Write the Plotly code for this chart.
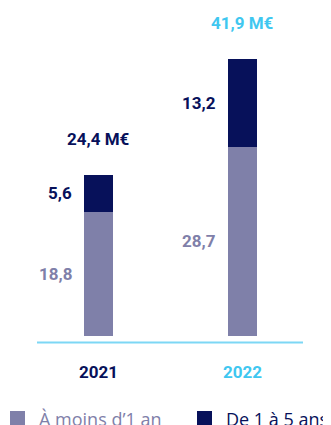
import plotly.graph_objects as go

years = ["2021", "2022"]
less_1y = [18.8, 28.7]
one_to_5y = [5.6, 13.2]
totals = [24.4, 41.9]
value_labels_less = ["18,8", "28,7"]
value_labels_more = ["5,6", "13,2"]
total_labels = ["24,4 M€", "41,9 M€"]
series_names = ["À moins d’1 an", "De 1 à 5 ans"]

LIGHT = "#7f80a9"
DARK = "#07115a"
CYAN = "#3fc7f0"
LINE = "#7dd7f5"
year_colors = [DARK, CYAN]
total_colors = [DARK, CYAN]
series_colors = [LIGHT, DARK]

NUMFONT = "Roboto, Liberation Sans, sans-serif"
W, H = 331, 425
OFF = 8  # page body margin
px_per_x = 144.0
x0_px = 98.5 - OFF
px_per_y = 6.6
base_px = 336 - OFF
bar_w = 29 / px_per_x

xs = list(range(len(years)))

fig = go.Figure()
fig.add_trace(go.Bar(x=xs, y=less_1y, name=series_names[0],
                     marker=dict(color=LIGHT, line=dict(width=0)), width=bar_w, hoverinfo="skip"))
fig.add_trace(go.Bar(x=xs, y=one_to_5y, name=series_names[1],
                     marker=dict(color=DARK, line=dict(width=0)), width=bar_w, hoverinfo="skip"))

ann = []
for i in xs:
    ann.append(dict(x=i - bar_w / 2, y=less_1y[i] / 2, text=f"<b>{value_labels_less[i]}</b>", xref="x", yref="y",
                    xanchor="right", yanchor="middle", xshift=-10, showarrow=False,
                    font=dict(family=NUMFONT, size=17, color=LIGHT)))
    ann.append(dict(x=i - bar_w / 2, y=less_1y[i] + one_to_5y[i] / 2, text=f"<b>{value_labels_more[i]}</b>",
                    xref="x", yref="y", xanchor="right", yanchor="middle", xshift=-10, showarrow=False,
                    font=dict(family=NUMFONT, size=17, color=DARK)))
    ann.append(dict(x=i, y=totals[i], text=f"<b>{total_labels[i]}</b>", xref="x", yref="y",
                    xanchor="center", yanchor="middle", yshift=36, showarrow=False,
                    font=dict(family=NUMFONT, size=17, color=total_colors[i])))
    ann.append(dict(x=i, y=-(372 - OFF - base_px) / px_per_y, text=f"<b>{years[i]}</b>", xref="x", yref="y",
                    xanchor="center", yanchor="middle", showarrow=False,
                    font=dict(family=NUMFONT, size=17, color=year_colors[i])))

line_y = -(342.5 - OFF - base_px) / px_per_y
shapes = [dict(type="line", xref="paper", yref="y", x0=(37 - OFF) / W, x1=(303 - OFF) / W,
               y0=line_y, y1=line_y, line=dict(color=LINE, width=2))]

# legend (manual, to match the reference placement)
leg_sq_left = [10 - OFF, 197 - OFF]
leg_sq_top = 411 - OFF
for k, name in enumerate(series_names):
    shapes.append(dict(type="rect", xref="paper", yref="paper",
                       x0=leg_sq_left[k] / W, x1=(leg_sq_left[k] + 15) / W,
                       y0=1 - (leg_sq_top + 15) / H, y1=1 - leg_sq_top / H,
                       fillcolor=series_colors[k], line=dict(width=0)))
    ann.append(dict(x=(leg_sq_left[k] + 27) / W, y=1 - (leg_sq_top + 8) / H, xref="paper", yref="paper",
                    text=name, xanchor="left", yanchor="middle", showarrow=False,
                    font=dict(family="Open Sans, sans-serif", size=18, color=series_colors[k])))

fig.update_layout(
    width=W, height=H, margin=dict(l=0, r=0, t=0, b=0),
    paper_bgcolor="white", plot_bgcolor="white",
    barmode="stack", bargap=0, showlegend=False,
    xaxis=dict(range=[-x0_px / px_per_x, (W - x0_px) / px_per_x], visible=False, fixedrange=True),
    yaxis=dict(range=[-(H - base_px) / px_per_y, base_px / px_per_y], visible=False, fixedrange=True),
    annotations=ann, shapes=shapes,
)

fig.write_html("out.html")
